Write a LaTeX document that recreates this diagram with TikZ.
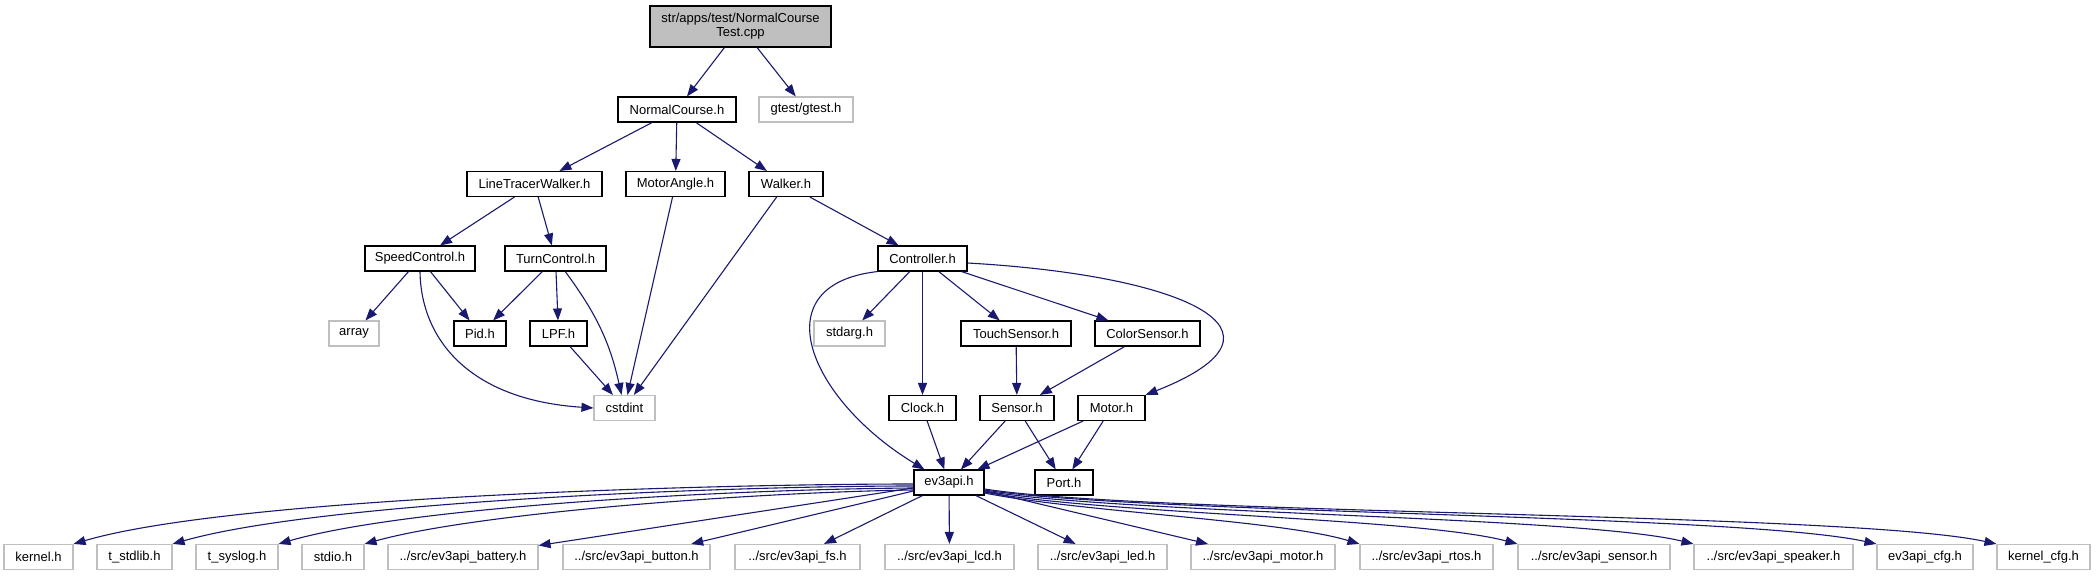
\documentclass[tikz,border=0pt]{standalone}
\usepackage{fontspec}
\setmainfont{Liberation Sans}
\usetikzlibrary{arrows.meta}
\definecolor{extgray}{HTML}{BFBFBF}
\definecolor{edgeblue}{HTML}{191970}
\begin{document}
\begin{tikzpicture}[x=1pt,y=-1pt,
  box/.style={draw=black, line width=1.1pt, fill=white, minimum height=25pt, inner sep=0pt, font=\fontsize{13}{14}\selectfont},
  ext/.style={box, draw=extgray},
  edge/.style={draw=edgeblue, line width=1.1pt, -{Triangle[length=12pt,width=9pt]}}]
\useasboundingbox (0,0) rectangle (2096,576);
% rank 0
\node[box, fill=extgray, minimum width=181pt, minimum height=41pt, align=center] (root) at (740.5,26.5) {str/apps/test/NormalCourse\\Test.cpp};
% rank 1
\node[box, minimum width=118pt] (nc) at (677,109.5) {NormalCourse.h};
\node[ext, minimum width=94pt] (gtest) at (806,109.5) {gtest/gtest.h};
% rank 2
\node[box, minimum width=135pt] (ltw) at (534.5,184) {LineTracerWalker.h};
\node[box, minimum width=99pt] (ma) at (675.5,184) {MotorAngle.h};
\node[box, minimum width=74pt] (walker) at (786,184) {Walker.h};
% rank 3
\node[box, minimum width=110pt] (sc) at (420,258.5) {SpeedControl.h};
\node[box, minimum width=101pt] (tc) at (555.5,258.5) {TurnControl.h};
\node[box, minimum width=89pt] (ctrl) at (922.5,258.5) {Controller.h};
% rank 4
\node[ext, minimum width=50pt] (array) at (354,333.5) {array};
\node[box, minimum width=52pt] (pid) at (480,333.5) {Pid.h};
\node[box, minimum width=57pt] (lpf) at (558.5,333.5) {LPF.h};
\node[ext, minimum width=71pt] (stdarg) at (849.5,333.5) {stdarg.h};
\node[box, minimum width=110pt] (touch) at (1016,333.5) {TouchSensor.h};
\node[box, minimum width=105pt] (color) at (1147.5,333.5) {ColorSensor.h};
% rank 5
\node[ext, minimum width=61pt] (cstdint) at (624.5,408) {cstdint};
\node[box, minimum width=67pt] (clock) at (922.5,408) {Clock.h};
\node[box, minimum width=74pt] (sensor) at (1017,408) {Sensor.h};
\node[box, minimum width=67pt] (motor) at (1111.5,408) {Motor.h};
% rank 6
\node[box, minimum width=70pt] (ev) at (949,482.5) {ev3api.h};
\node[box, minimum width=58pt] (port) at (1064,482.5) {Port.h};
% rank 7
\node[ext, minimum width=69pt] (kernel) at (38.5,557) {kernel.h};
\node[ext, minimum width=75pt] (tstdlib) at (134.5,557) {t\_stdlib.h};
\node[ext, minimum width=82pt] (tsyslog) at (237,557) {t\_syslog.h};
\node[ext, minimum width=62pt] (stdio) at (333,557) {stdio.h};
\node[ext, minimum width=150pt] (battery) at (463,557) {../src/ev3api\_battery.h};
\node[ext, minimum width=147pt] (button) at (636.5,557) {../src/ev3api\_button.h};
\node[ext, minimum width=125pt] (fs) at (797.5,557) {../src/ev3api\_fs.h};
\node[ext, minimum width=129pt] (lcd) at (949.5,557) {../src/ev3api\_lcd.h};
\node[ext, minimum width=129pt] (led) at (1102.5,557) {../src/ev3api\_led.h};
\node[ext, minimum width=144pt] (mot) at (1263,557) {../src/ev3api\_motor.h};
\node[ext, minimum width=133pt] (rtos) at (1426.5,557) {../src/ev3api\_rtos.h};
\node[ext, minimum width=152pt] (sens) at (1594,557) {../src/ev3api\_sensor.h};
\node[ext, minimum width=159pt] (spk) at (1773.5,557) {../src/ev3api\_speaker.h};
\node[ext, minimum width=96pt] (cfg) at (1925,557) {ev3api\_cfg.h};
\node[ext, minimum width=93pt] (kcfg) at (2043.5,557) {kernel\_cfg.h};
% edges
\draw[edge] (root) -- (nc);
\draw[edge] (root) -- (gtest);
\draw[edge] (nc) -- (ltw);
\draw[edge] (nc) -- (ma);
\draw[edge] (nc) -- (walker);
\draw[edge] (ltw) -- (sc);
\draw[edge] (ltw) -- (tc);
\draw[edge] (ma) -- (cstdint);
\draw[edge] (walker) -- (cstdint);
\draw[edge] (walker) -- (ctrl);
\draw[edge] (sc) -- (array);
\draw[edge] (sc) -- (pid);
\draw[edge] (sc.south) .. controls (421,340) and (470,400) .. (cstdint.west);
\draw[edge] (tc) -- (pid);
\draw[edge] (tc) -- (lpf);
\draw[edge] (tc) to[bend left=12] (cstdint);
\draw[edge] (lpf) -- (cstdint);
\draw[edge] (ctrl) -- (stdarg);
\draw[edge] (ctrl) -- (clock);
\draw[edge] (ctrl) -- (touch);
\draw[edge] (ctrl) -- (color);
\draw[edge] ([yshift=-4.5pt]ctrl.east) .. controls (1180,275) and (1310,330) .. (motor.north east);
\draw[edge] (ctrl.south west) .. controls (760,285) and (810,400) .. ([xshift=11pt]ev.north west);
\draw[edge] (touch) -- (sensor);
\draw[edge] (color) -- (sensor);
\draw[edge] (clock) -- (ev);
\draw[edge] (sensor) -- (ev);
\draw[edge] (sensor) -- (port);
\draw[edge] (motor) -- (ev);
\draw[edge] (motor) -- (port);
% ev3api fan-out
\draw[edge] ([yshift=-1.5pt]ev.west) .. controls (700,484) and (230,498) .. (kernel.north east);
\draw[edge] ([yshift=-3.5pt]ev.west) .. controls (720,486) and (320,502) .. (tstdlib.north east);
\draw[edge] ([yshift=-5.5pt]ev.west) .. controls (740,489) and (410,506) .. (tsyslog.north east);
\draw[edge] ([yshift=-7.5pt]ev.west) .. controls (760,492) and (480,512) .. (stdio.north east);
\draw[edge] (ev) -- (battery);
\draw[edge] (ev) -- (button);
\draw[edge] (ev) -- (fs);
\draw[edge] (ev) -- (lcd);
\draw[edge] (ev) -- (led);
\draw[edge] (ev) -- (mot);
\draw[edge] ([yshift=-10.5pt]ev.east) .. controls (1080,512) and (1280,520) .. (rtos.north west);
\draw[edge] ([yshift=-9.5pt]ev.east) .. controls (1100,514) and (1420,518) .. (sens.north west);
\draw[edge] ([yshift=-8.5pt]ev.east) .. controls (1120,514) and (1580,516) .. (spk.north west);
\draw[edge] ([yshift=-7.5pt]ev.east) .. controls (1140,514) and (1740,514) .. (cfg.north west);
\draw[edge] ([yshift=-6.5pt]ev.east) .. controls (1150,515) and (1850,512) .. (kcfg.north west);
\end{tikzpicture}
\end{document}
